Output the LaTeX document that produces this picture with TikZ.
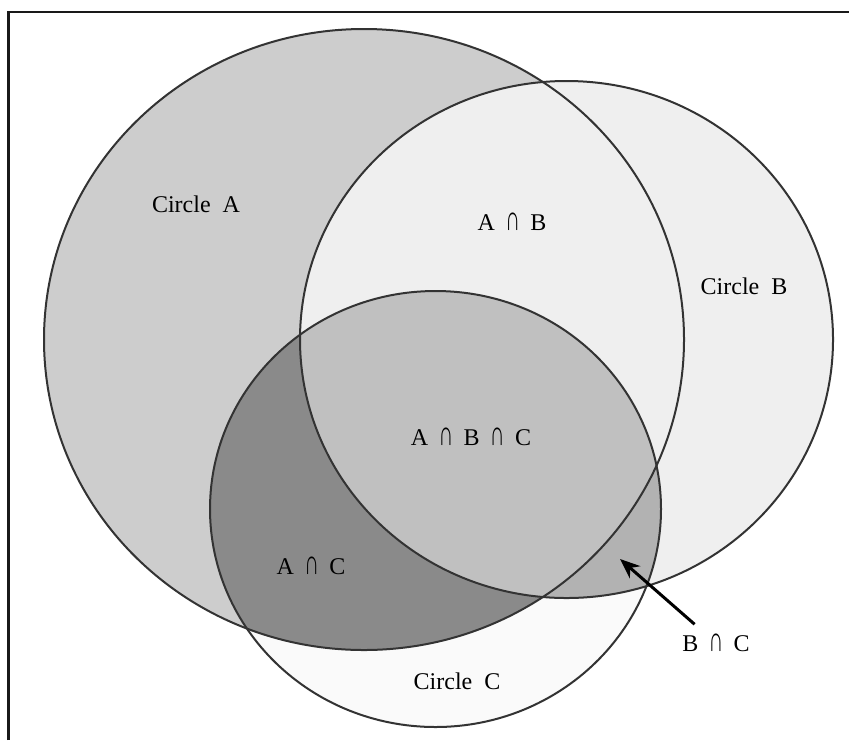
\documentclass[tikz,border=0pt]{standalone}
\usepackage{graphicx}
\usepackage{fontspec}
\setmainfont{Liberation Serif}
\usetikzlibrary{arrows.meta}

\definecolor{fillA}{HTML}{CDCDCD}
\definecolor{fillB}{HTML}{EFEFEF}
\definecolor{fillC}{HTML}{FAFAFA}
\definecolor{fillAC}{HTML}{8A8A8A}
\definecolor{fillBC}{HTML}{B2B2B2}
\definecolor{fillABC}{HTML}{C0C0C0}

\newcommand{\capsym}{\hspace{0.43em}\raisebox{0.2pt}{\scalebox{0.85}[1.45]{∩}}\hspace{0.43em}}

\tikzset{
  ring/.style={draw=black!80, line width=1pt},
  lbl/.style={font=\fontsize{12}{14}\selectfont, inner sep=2pt},
  radA/.style={x radius=320, y radius=310.5},
  radB/.style={x radius=266.5, y radius=258.5},
  radC/.style={x radius=225.5, y radius=218}
}

\begin{document}
\begin{tikzpicture}[x=0.5pt, y=-0.5pt]
    \useasboundingbox (0,0) rectangle (849,740);

    \coordinate (cA) at (364,339.5);
    \coordinate (cB) at (566.5,339.5);
    \coordinate (cC) at (435.5,509);

    % plain fills
    \fill[fillC] (cC) ellipse[radC];
    \fill[fillA] (cA) ellipse[radA];
    \fill[fillB] (cB) ellipse[radB];

    % overlaps with circle C
    \begin{scope}
        \clip (cC) ellipse[radC];
        \fill[fillAC] (cA) ellipse[radA];
        \fill[fillBC] (cB) ellipse[radB];
        \clip (cB) ellipse[radB];
        \fill[fillABC] (cA) ellipse[radA];
    \end{scope}

    \draw[ring] (cA) ellipse[radA];
    \draw[ring] (cB) ellipse[radB];
    \draw[ring] (cC) ellipse[radC];

    % frame
    \draw[line width=1.3pt, black!90] (8.7,740) -- (8.7,12) -- (849,12);

    \node[lbl] (labA) at (196,204) {Circle~ A};
    \node[lbl] (labB) at (744,286) {Circle~ B};
    \node[lbl] (labC) at (457,681) {Circle~ C};
    \node[lbl] (labAB) at (512,222) {A\capsym B};
    \node[lbl] (labABC) at (471,437) {A\capsym B\capsym C};
    \node[lbl] (labAC) at (311,566) {A\capsym C};
    \node[lbl] (labBC) at (716,643) {B\capsym C};

    \coordinate (tipBC) at (620,559);
    \draw[line width=1.5pt, -{Stealth[length=10pt, width=8pt]}, shorten <=4pt]
        (labBC) -- (tipBC);
\end{tikzpicture}
\end{document}
